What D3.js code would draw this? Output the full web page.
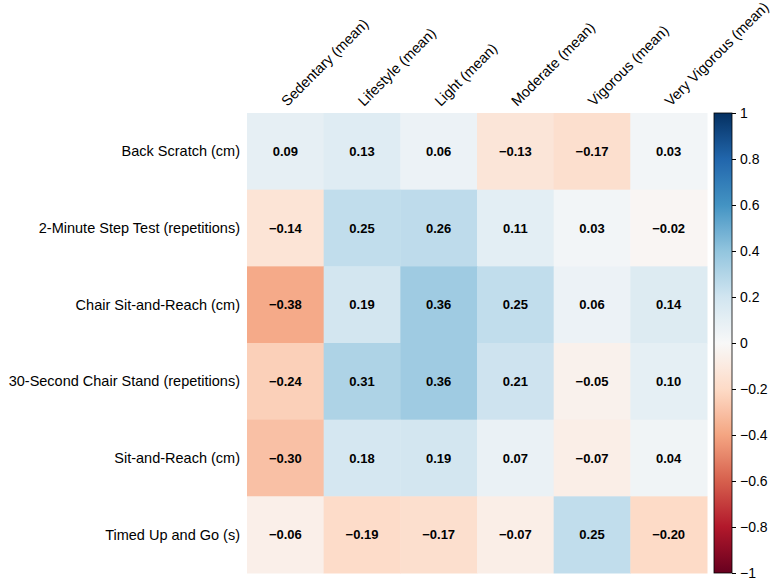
<!DOCTYPE html>
<html>
<head>
<meta charset="utf-8">
<script src="https://cdn.jsdelivr.net/npm/d3@7"></script>
<style>
  body { margin: 0; background: #fff; }
  svg { font-family: "Liberation Sans", Arial, sans-serif; }
  .cbar .domain { display: none; }
  .cbar .tick line { stroke: #000; }
  .cbar .tick text { font-size: 14px; fill: #000; }
</style>
</head>
<body>
<svg class="chart-svg"></svg>
<script>
const WIDTH = 777;
const HEIGHT = 587;

const columns = [
  "Sedentary (mean)",
  "Lifestyle (mean)",
  "Light (mean)",
  "Moderate (mean)",
  "Vigorous (mean)",
  "Very Vigorous (mean)"
];

const rows = [
  "Back Scratch (cm)",
  "2-Minute Step Test (repetitions)",
  "Chair Sit-and-Reach (cm)",
  "30-Second Chair Stand (repetitions)",
  "Sit-and-Reach (cm)",
  "Timed Up and Go (s)"
];

const values = [
  [0.09, 0.13, 0.06, -0.13, -0.17, 0.03],
  [-0.14, 0.25, 0.26, 0.11, 0.03, -0.02],
  [-0.38, 0.19, 0.36, 0.25, 0.06, 0.14],
  [-0.24, 0.31, 0.36, 0.21, -0.05, 0.10],
  [-0.30, 0.18, 0.19, 0.07, -0.07, 0.04],
  [-0.06, -0.19, -0.17, -0.07, 0.25, -0.20]
];

const colorTicks = [-1, -0.8, -0.6, -0.4, -0.2, 0, 0.2, 0.4, 0.6, 0.8, 1];

// matplotlib RdBu, from -1 (red) to 1 (blue)
const rdbu = ["#67001f", "#b2182b", "#d6604d", "#f4a582", "#fddbc7", "#f8f8f8",
  "#d1e5f0", "#92c5de", "#4393c3", "#2166ac", "#053061"];

const LEFT = 247, TOP = 113, SIZE = 460;

const svg = d3.select(".chart-svg").attr("width", WIDTH).attr("height", HEIGHT);

const x = d3.scaleBand().domain(columns).range([LEFT, LEFT + SIZE]);
const y = d3.scaleBand().domain(rows).range([TOP, TOP + SIZE]);
const interp = d3.piecewise(d3.interpolateRgb, rdbu);
const color = d3.scaleSequential(interp).domain([-1, 1]);

const cells = [];
values.forEach((r, i) => r.forEach((v, j) => cells.push({ row: rows[i], col: columns[j], v })));

svg.append("g")
  .selectAll("rect")
  .data(cells)
  .join("rect")
  .attr("x", d => x(d.col))
  .attr("y", d => y(d.row))
  .attr("width", x.bandwidth() + 0.5)
  .attr("height", y.bandwidth() + 0.5)
  .attr("fill", d => color(d.v));

const fmt = d3.format(".2f");
svg.append("g")
  .selectAll("text")
  .data(cells)
  .join("text")
  .attr("x", d => x(d.col) + x.bandwidth() / 2)
  .attr("y", d => y(d.row) + y.bandwidth() / 2)
  .attr("dy", "0.35em")
  .attr("text-anchor", "middle")
  .style("font-size", "13px")
  .style("font-weight", "bold")
  .text(d => fmt(d.v));

// row labels
svg.append("g")
  .selectAll("text")
  .data(rows)
  .join("text")
  .attr("x", LEFT - 7)
  .attr("y", d => y(d) + y.bandwidth() / 2)
  .attr("dy", "0.35em")
  .attr("text-anchor", "end")
  .style("font-size", "14.5px")
  .text(d => d);

// column labels, rotated
svg.append("g")
  .selectAll("text")
  .data(columns)
  .join("text")
  .attr("transform", d => `translate(${x(d) + x.bandwidth() / 2 + 2}, ${TOP - 6}) rotate(-45)`)
  .attr("text-anchor", "start")
  .style("font-size", "14.5px")
  .text(d => d);

// colorbar
const CB_X = 714, CB_W = 18;
const cbScale = d3.scaleLinear().domain([-1, 1]).range([TOP + SIZE, TOP]);

const grad = svg.append("defs").append("linearGradient")
  .attr("id", "cbgrad")
  .attr("x1", 0).attr("y1", 1).attr("x2", 0).attr("y2", 0);
grad.selectAll("stop")
  .data(d3.range(0, 1.0001, 0.025))
  .join("stop")
  .attr("offset", d => d)
  .attr("stop-color", d => interp(d));

svg.append("rect")
  .attr("x", CB_X)
  .attr("y", TOP)
  .attr("width", CB_W)
  .attr("height", SIZE)
  .attr("fill", "url(#cbgrad)")
  .attr("stroke", "#000")
  .attr("stroke-width", 0.8);

svg.append("g")
  .attr("class", "cbar")
  .attr("transform", `translate(${CB_X + CB_W}, 0)`)
  .call(d3.axisRight(cbScale).tickValues(colorTicks).tickSize(4).tickPadding(4).tickFormat(d3.format("~g")));
</script>
</body>
</html>
